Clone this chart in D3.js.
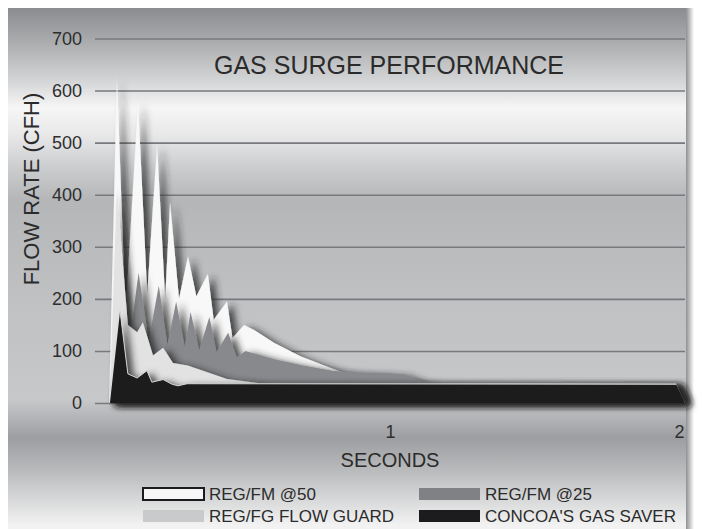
<!DOCTYPE html>
<html>
<head>
<meta charset="utf-8">
<script src="https://cdn.jsdelivr.net/npm/d3@7"></script>
<style>
  body { margin: 0; background: #fff; }
  svg { display: block; font-family: "Liberation Sans", Arial, sans-serif; }
</style>
</head>
<body>
<div id="chart"></div>
<script>
// time in seconds, flow in CFH
var regFm50 = [[0.028,0],[0.055,625],[0.085,170],[0.128,578],[0.16,210],[0.194,497],[0.222,200],[0.239,385],[0.27,200],[0.301,282],[0.33,205],[0.37,248],[0.39,160],[0.436,195],[0.455,125],[0.495,150],[0.53,140],[0.6,115],[0.69,90],[0.79,68],[0.84,58],[0.9,55],[0.97,50],[1.05,42],[1.12,38],[1.99,37],[2.02,0]];
var regFm25 = [[0.03,0],[0.06,290],[0.1,125],[0.13,250],[0.165,120],[0.2,225],[0.23,112],[0.26,195],[0.29,108],[0.31,175],[0.34,102],[0.375,165],[0.4,98],[0.44,135],[0.47,88],[0.5,100],[0.6,84],[0.7,72],[0.8,62],[0.9,58],[0.97,58],[1.05,55],[1.11,42],[1.17,37],[1.99,37],[2.02,0]];
var flowGuard = [[0.03,0],[0.055,410],[0.093,150],[0.125,136],[0.145,155],[0.18,91],[0.215,106],[0.249,77],[0.3,72],[0.436,46],[0.55,38],[1.99,37],[2.02,0]];
var gasSaver = [[0.031,0],[0.066,176],[0.093,56],[0.125,48],[0.159,62],[0.176,40],[0.215,45],[0.246,36],[0.266,33],[0.298,37],[1.99,36],[2.02,0]];

var yTicks = [0, 100, 200, 300, 400, 500, 600, 700];
var xTicks = [1, 2];
var legendNames = ["REG/FM @50", "REG/FM @25", "REG/FG FLOW GUARD", "CONCOA'S GAS SAVER"];

var width = 702, height = 529;

var svg = d3.select("#chart").append("svg")
    .attr("width", width)
    .attr("height", height);

var defs = svg.append("defs");

// panel background gradient
var bg = defs.append("linearGradient")
    .attr("id", "bg")
    .attr("gradientUnits", "userSpaceOnUse")
    .attr("x1", 0).attr("x2", 0).attr("y1", 8).attr("y2", 529);
[[8,"#8a8c8f"],[40,"#a8aaac"],[80,"#d3d4d6"],[108,"#f6f6f6"],[135,"#e8e8e9"],[170,"#c9cbcd"],[200,"#b4b6b8"],[300,"#bfc1c3"],[400,"#c6c8ca"],[438,"#9c9ea1"],[470,"#b8babc"],[525,"#f2f2f2"]]
    .forEach(function (s) {
        bg.append("stop").attr("offset", (s[0] - 8) / 521).attr("stop-color", s[1]);
    });

var edge = defs.append("linearGradient").attr("id", "edge");
edge.append("stop").attr("offset", 0).attr("stop-color", "#8d8f92");
edge.append("stop").attr("offset", 1).attr("stop-color", "#ffffff");

// soft shadow to give the areas some depth
var f = defs.append("filter").attr("id", "shade")
    .attr("x", "-10%").attr("y", "-10%").attr("width", "130%").attr("height", "130%");
f.append("feGaussianBlur").attr("in", "SourceAlpha").attr("stdDeviation", 3.5).attr("result", "blur");
f.append("feOffset").attr("in", "blur").attr("dx", 6).attr("dy", 2).attr("result", "off");
f.append("feFlood").attr("flood-color", "#262626").attr("flood-opacity", 0.8);
f.append("feComposite").attr("in2", "off").attr("operator", "in").attr("result", "sh");
var merge = f.append("feMerge");
merge.append("feMergeNode").attr("in", "sh");
merge.append("feMergeNode").attr("in", "SourceGraphic");

// panel
svg.append("rect")
    .attr("x", 8).attr("y", 8)
    .attr("width", 680).attr("height", height - 8)
    .attr("fill", "url(#bg)");
svg.append("rect")
    .attr("x", 686).attr("y", 8)
    .attr("width", 8).attr("height", height - 8)
    .attr("fill", "url(#edge)");

// scales
var xScale = d3.scaleLinear().domain([0, 2]).range([101, 679]);
var yScale = d3.scaleLinear().domain([0, 700]).range([403, 38.5]);

// y axis with grid lines
var yAxis = svg.append("g")
    .attr("transform", "translate(95,0)")
    .call(d3.axisLeft(yScale).tickValues(yTicks).tickSize(-590).tickPadding(13));
yAxis.select(".domain").remove();
yAxis.selectAll("line").attr("stroke", "#77797c").attr("stroke-width", 1.6);
yAxis.selectAll("text")
    .attr("fill", "#2e2e2e")
    .style("font-size", "18px")
    .style("font-family", "Liberation Sans, Arial, sans-serif");

// areas, back to front
var area = d3.area()
    .x(function (d) { return xScale(d[0]); })
    .y0(yScale(0))
    .y1(function (d) { return yScale(d[1]); });

var series = [
    { data: regFm50, fill: "#f8f8f8" },
    { data: regFm25, fill: "#87898c" },
    { data: flowGuard, fill: "#e2e2e3" },
    { data: gasSaver, fill: "#1c1b1d" }
];

series.forEach(function (s) {
    svg.append("path")
        .datum(s.data)
        .attr("d", area)
        .attr("fill", s.fill)
        .attr("filter", "url(#shade)");
});

// light top edge on the front series
svg.append("path")
    .datum(gasSaver.slice(1, -1))
    .attr("d", d3.line()
        .x(function (d) { return xScale(d[0]); })
        .y(function (d) { return yScale(d[1]); }))
    .attr("fill", "none")
    .attr("stroke", "#d8d8d8")
    .attr("stroke-width", 1);

// x axis labels only
var xAxis = svg.append("g")
    .attr("transform", "translate(0," + yScale(0) + ")")
    .call(d3.axisBottom(xScale).tickValues(xTicks).tickFormat(d3.format("d")).tickSize(0).tickPadding(22));
xAxis.select(".domain").remove();
xAxis.selectAll("text")
    .attr("fill", "#2e2e2e")
    .style("font-size", "18px")
    .style("font-family", "Liberation Sans, Arial, sans-serif");

// titles
svg.append("text")
    .attr("x", 389).attr("y", 74)
    .attr("text-anchor", "middle")
    .attr("fill", "#2b2b2b")
    .style("font-size", "25px")
    .text("GAS SURGE PERFORMANCE");

svg.append("text")
    .attr("transform", "translate(39,189) rotate(-90)")
    .attr("text-anchor", "middle")
    .attr("fill", "#2b2b2b")
    .style("font-size", "22px")
    .text("FLOW RATE (CFH)");

svg.append("text")
    .attr("x", 390).attr("y", 467)
    .attr("text-anchor", "middle")
    .attr("fill", "#2b2b2b")
    .style("font-size", "20px")
    .text("SECONDS");

// legend
var legendItems = [
    { name: legendNames[0], x: 143, y: 488, fill: "#f7f7f7", stroke: "#1c1b1d" },
    { name: legendNames[1], x: 419, y: 488, fill: "#7f8184", stroke: "none" },
    { name: legendNames[2], x: 143, y: 510, fill: "#c9cacc", stroke: "none" },
    { name: legendNames[3], x: 419, y: 510, fill: "#1c1b1d", stroke: "none" }
];

var legend = svg.append("g");
legendItems.forEach(function (d) {
    legend.append("rect")
        .attr("x", d.x).attr("y", d.y)
        .attr("width", 61).attr("height", 12)
        .attr("fill", d.fill)
        .attr("stroke", d.stroke)
        .attr("stroke-width", 2);
    legend.append("text")
        .attr("x", d.x + 66).attr("y", d.y + 12)
        .attr("fill", "#2b2b2b")
        .style("font-size", "17px")
        .text(d.name);
});
</script>
</body>
</html>
